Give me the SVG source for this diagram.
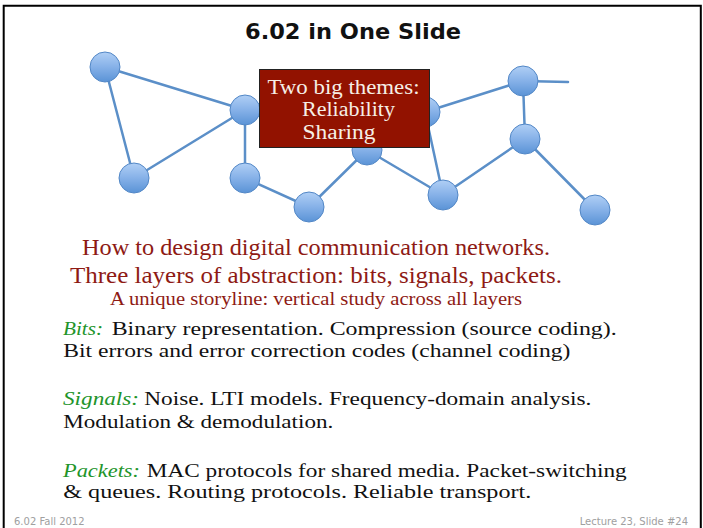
<svg xmlns="http://www.w3.org/2000/svg" width="703" height="528" viewBox="0 0 703 528" xml:space="preserve">
  <defs>
    <linearGradient id="nodeFill" x1="0" y1="0" x2="0" y2="1">
      <stop offset="0" stop-color="#b0cff5"/>
      <stop offset="0.5" stop-color="#86b1e8"/>
      <stop offset="1" stop-color="#5a93d6"/>
    </linearGradient>
  </defs>
  <style>
    .frame { fill: none; stroke: #000; stroke-width: 2; }
    .edge { stroke: #5b8fc8; stroke-width: 2.5; fill: none; stroke-linecap: round; }
    .node circle { fill: url(#nodeFill); stroke: #5287c6; stroke-width: 1; }
    .title { font-family: "DejaVu Sans", "Liberation Sans", sans-serif; font-weight: bold; font-size: 22px; fill: #111; }
    .serif { font-family: "Liberation Serif", "DejaVu Serif", serif; white-space: pre; }
    .red { fill: #8e1a14; }
    .body { fill: #111; font-size: 19px; }
    .layer { fill: #22942a; font-style: italic; font-size: 19px; }
    .box rect { fill: #921200; stroke: #222; stroke-width: 1; }
    .box text { fill: #f6efe6; font-size: 20.5px; }
    .foot { font-family: "DejaVu Sans", "Liberation Sans", sans-serif; font-size: 10px; fill: #a0a0a0; }
  </style>

  <rect x="0" y="0" width="703" height="528" fill="#fff"/>
  <!-- slide frame: top, left and right rules -->
  <path class="frame" d="M3.7,530 V5.7 H700.8 V530"/>

  <text class="title" x="353" y="38.5" text-anchor="middle" textLength="216" lengthAdjust="spacingAndGlyphs">6.02 in One Slide</text>

  <!-- network links -->
  <g id="links">
    <line class="edge" x1="105" y1="67" x2="245" y2="110"/>
    <line class="edge" x1="105" y1="67" x2="134" y2="178"/>
    <line class="edge" x1="134" y1="178" x2="245" y2="110"/>
    <line class="edge" x1="245" y1="110" x2="245" y2="178"/>
    <line class="edge" x1="245" y1="110" x2="367" y2="150"/>
    <line class="edge" x1="245" y1="178" x2="309" y2="207"/>
    <line class="edge" x1="309" y1="207" x2="367" y2="150"/>
    <line class="edge" x1="367" y1="150" x2="443" y2="195"/>
    <line class="edge" x1="425" y1="112" x2="443" y2="195"/>
    <line class="edge" x1="425" y1="112" x2="523" y2="81"/>
    <line class="edge" x1="523" y1="81" x2="568" y2="82"/>
    <line class="edge" x1="523" y1="81" x2="525" y2="139"/>
    <line class="edge" x1="525" y1="139" x2="443" y2="195"/>
    <line class="edge" x1="525" y1="139" x2="595" y2="210"/>
  </g>

  <!-- network nodes -->
  <g id="n1" class="node"><circle cx="105" cy="67" r="15"/></g>
  <g id="n2" class="node"><circle cx="245" cy="110" r="15"/></g>
  <g id="n3" class="node"><circle cx="134" cy="178" r="15"/></g>
  <g id="n4" class="node"><circle cx="245" cy="178" r="15"/></g>
  <g id="n5" class="node"><circle cx="309" cy="207" r="15"/></g>
  <g id="n6" class="node"><circle cx="367" cy="150" r="15"/></g>
  <g id="n7" class="node"><circle cx="425" cy="112" r="15"/></g>
  <g id="n8" class="node"><circle cx="523" cy="81" r="15"/></g>
  <g id="n9" class="node"><circle cx="525" cy="139" r="15"/></g>
  <g id="n10" class="node"><circle cx="443" cy="195" r="15"/></g>
  <g id="n11" class="node"><circle cx="595" cy="210" r="15"/></g>

  <!-- themes callout -->
  <g id="themes" class="box">
    <rect x="259.5" y="69.5" width="170" height="78"/>
    <text class="serif" x="267.5" y="93.5" textLength="152" lengthAdjust="spacingAndGlyphs">Two big themes:</text>
    <text class="serif" x="302" y="115.5" textLength="93" lengthAdjust="spacingAndGlyphs">Reliability</text>
    <text class="serif" x="302.5" y="138.5" textLength="73" lengthAdjust="spacingAndGlyphs">Sharing</text>
  </g>

  <!-- course summary -->
  <g class="serif red">
    <text x="316" y="255" font-size="23" text-anchor="middle" textLength="468" lengthAdjust="spacingAndGlyphs">How to design digital communication networks.</text>
    <text x="316" y="283" font-size="23" text-anchor="middle" textLength="492" lengthAdjust="spacingAndGlyphs">Three layers of abstraction: bits, signals, packets.</text>
    <text x="316" y="305" font-size="18" text-anchor="middle" textLength="412" lengthAdjust="spacingAndGlyphs">A unique storyline: vertical study across all layers</text>
  </g>

  <g class="serif">
    <text class="layer" x="63" y="335" textLength="40" lengthAdjust="spacingAndGlyphs">Bits:</text>
    <text class="body" x="111.7" y="335" textLength="505" lengthAdjust="spacingAndGlyphs">Binary representation.  Compression (source coding).</text>
    <text class="body" x="63.3" y="357" textLength="507" lengthAdjust="spacingAndGlyphs">Bit errors and error correction codes (channel coding)</text>

    <text class="layer" x="63" y="405" textLength="76" lengthAdjust="spacingAndGlyphs">Signals:</text>
    <text class="body" x="144.3" y="405" textLength="447" lengthAdjust="spacingAndGlyphs">Noise. LTI models. Frequency-domain analysis.</text>
    <text class="body" x="63.3" y="428.3" textLength="270" lengthAdjust="spacingAndGlyphs">Modulation &amp; demodulation.</text>

    <text class="layer" x="63" y="476.7" textLength="77" lengthAdjust="spacingAndGlyphs">Packets:</text>
    <text class="body" x="146.7" y="476.7" textLength="480" lengthAdjust="spacingAndGlyphs">MAC protocols for shared media. Packet-switching</text>
    <text class="body" x="63.3" y="498.3" textLength="468" lengthAdjust="spacingAndGlyphs">&amp; queues.  Routing protocols.  Reliable transport.</text>
  </g>

  <text class="foot" x="14" y="525">6.02 Fall 2012</text>
  <text class="foot" x="688" y="525" text-anchor="end">Lecture 23, Slide #24</text>
</svg>
